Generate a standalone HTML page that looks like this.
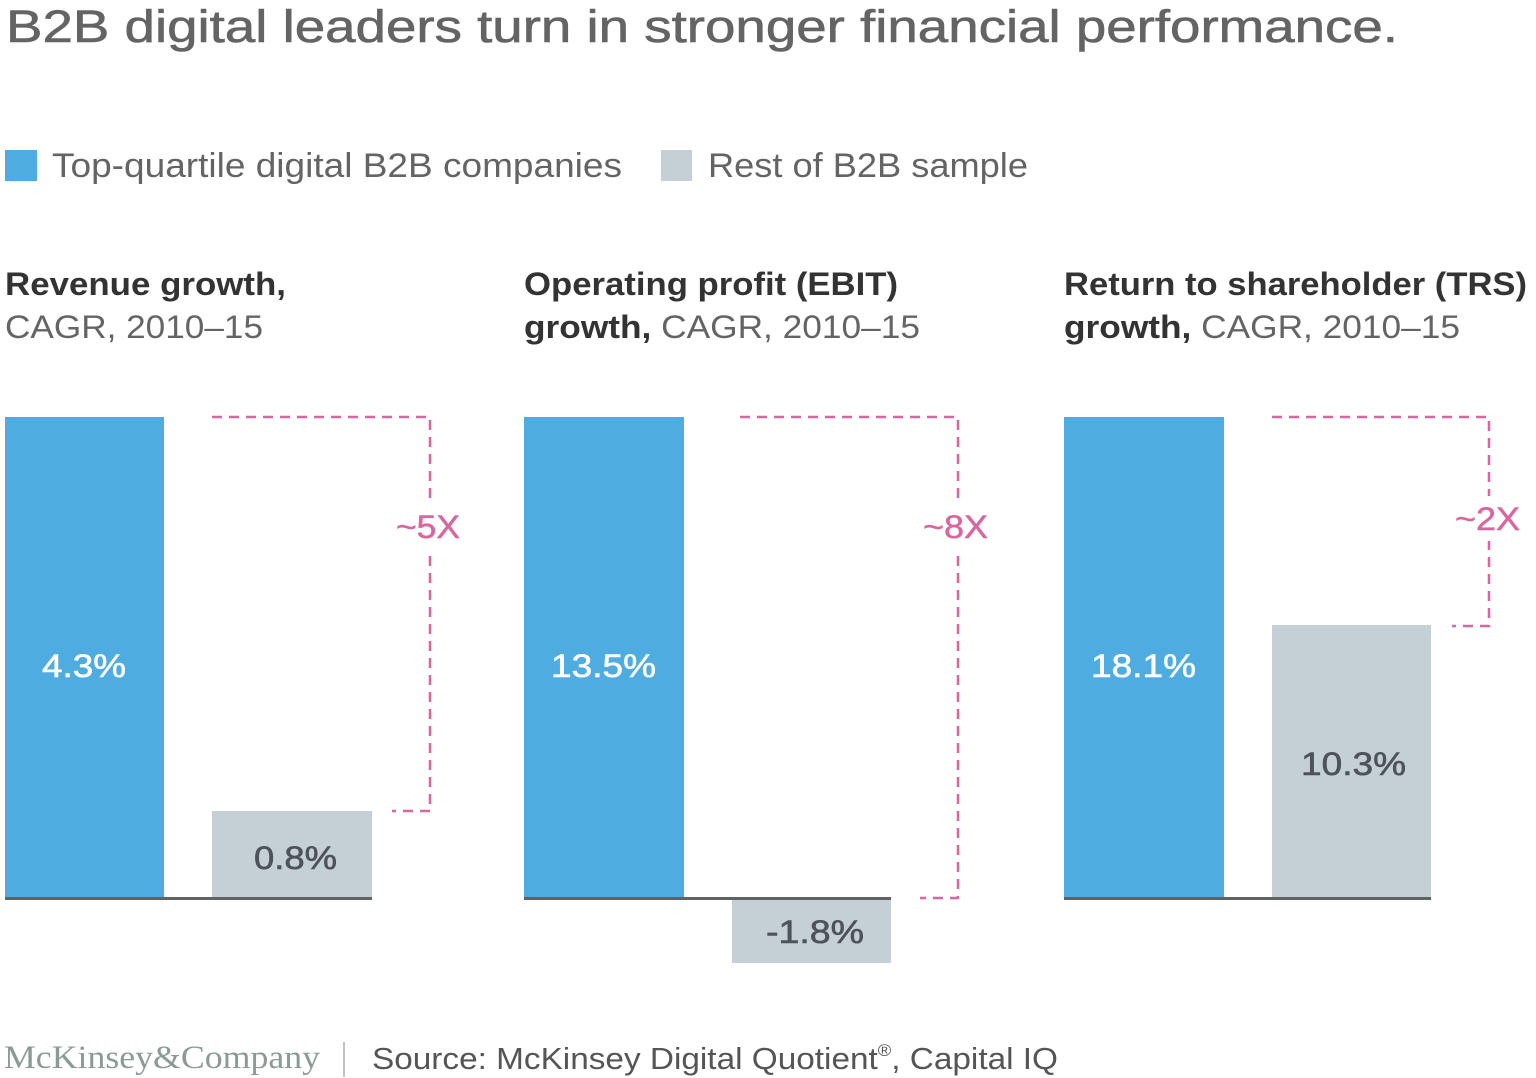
<!DOCTYPE html>
<html><head><meta charset="utf-8"><style>
body{margin:0;background:#fff;}
svg{display:block;font-family:"Liberation Sans",Arial,sans-serif;}
</style></head><body>
<svg width="1536" height="1078" viewBox="0 0 1536 1078">
<text x="6" y="42" font-size="45" fill="#646464" stroke="#646464" stroke-width="0.6" textLength="1392" lengthAdjust="spacingAndGlyphs">B2B digital leaders turn in stronger financial performance.</text>
<rect x="5" y="150" width="32" height="31" fill="#4FACE0"/>
<text x="52" y="177" font-size="34" fill="#646464" textLength="570" lengthAdjust="spacingAndGlyphs">Top-quartile digital B2B companies</text>
<rect x="661" y="150" width="31" height="31" fill="#C4D0D6"/>
<text x="708" y="177" font-size="34" fill="#646464" textLength="320" lengthAdjust="spacingAndGlyphs">Rest of B2B sample</text>

<g font-size="32">
<text x="5" y="295" fill="#333" font-weight="bold" textLength="281" lengthAdjust="spacingAndGlyphs">Revenue growth,</text>
<text x="5" y="338" fill="#646464" textLength="258" lengthAdjust="spacingAndGlyphs">CAGR, 2010–15</text>
<text x="524" y="295" fill="#333" font-weight="bold" textLength="374" lengthAdjust="spacingAndGlyphs">Operating profit (EBIT)</text>
<text x="524" y="338" textLength="396" lengthAdjust="spacingAndGlyphs"><tspan fill="#333" font-weight="bold">growth,</tspan><tspan fill="#646464"> CAGR, 2010–15</tspan></text>
<text x="1064" y="295" fill="#333" font-weight="bold" textLength="463" lengthAdjust="spacingAndGlyphs">Return to shareholder (TRS)</text>
<text x="1064" y="338" textLength="396" lengthAdjust="spacingAndGlyphs"><tspan fill="#333" font-weight="bold">growth,</tspan><tspan fill="#646464"> CAGR, 2010–15</tspan></text>
</g>

<g>
<rect x="5" y="417" width="159" height="481" fill="#4FACE0"/>
<rect x="212" y="811" width="160" height="87" fill="#C4D0D6"/>
<line x1="5" y1="898.5" x2="372" y2="898.5" stroke="#5f6366" stroke-width="3"/>
<rect x="524" y="417" width="160" height="481" fill="#4FACE0"/>
<rect x="732" y="898" width="159" height="65" fill="#C4D0D6"/>
<line x1="524" y1="898.5" x2="891" y2="898.5" stroke="#5f6366" stroke-width="3"/>
<rect x="1064" y="417" width="160" height="481" fill="#4FACE0"/>
<rect x="1272" y="625" width="159" height="273" fill="#C4D0D6"/>
<line x1="1064" y1="898.5" x2="1431" y2="898.5" stroke="#5f6366" stroke-width="3"/>
</g>

<g fill="none" stroke="#D8669F" stroke-width="2.5" stroke-dasharray="10,7">
<polyline points="212,417 430,417 430,811 392,811"/>
<polyline points="740,417 958,417 958,898 920,898"/>
<polyline points="1272,417 1489,417 1489,626 1452,626"/>
</g>
<g font-size="32" fill="#D8669F" stroke="#D8669F" stroke-width="0.5">
<rect x="390" y="505" width="75" height="45" fill="#fff" stroke="none"/>
<text x="396" y="538" textLength="64" lengthAdjust="spacingAndGlyphs">~5X</text>
<rect x="918" y="505" width="75" height="45" fill="#fff" stroke="none"/>
<text x="923" y="538" textLength="65" lengthAdjust="spacingAndGlyphs">~8X</text>
<rect x="1450" y="496" width="80" height="45" fill="#fff" stroke="none"/>
<text x="1455" y="530" textLength="65" lengthAdjust="spacingAndGlyphs">~2X</text>
</g>

<g font-size="32" stroke-width="0.6">
<text x="42" y="677" fill="#fff" stroke="#fff" textLength="84" lengthAdjust="spacingAndGlyphs">4.3%</text>
<text x="254" y="869" fill="#4d5358" stroke="#4d5358" textLength="83" lengthAdjust="spacingAndGlyphs">0.8%</text>
<text x="551" y="677" fill="#fff" stroke="#fff" textLength="105" lengthAdjust="spacingAndGlyphs">13.5%</text>
<text x="766" y="943" fill="#4d5358" stroke="#4d5358" textLength="98" lengthAdjust="spacingAndGlyphs">-1.8%</text>
<text x="1091" y="677" fill="#fff" stroke="#fff" textLength="105" lengthAdjust="spacingAndGlyphs">18.1%</text>
<text x="1301" y="775" fill="#4d5358" stroke="#4d5358" textLength="105" lengthAdjust="spacingAndGlyphs">10.3%</text>
</g>

<text x="4" y="1068" font-size="33" fill="#8a9a96" font-family="Liberation Serif,serif" textLength="316" lengthAdjust="spacingAndGlyphs">McKinsey&amp;Company</text>
<line x1="344" y1="1042" x2="344" y2="1077" stroke="#aaa" stroke-width="1.5"/>
<text x="372" y="1069" font-size="31" fill="#555" textLength="686" lengthAdjust="spacingAndGlyphs">Source: McKinsey Digital Quotient<tspan font-size="17" dy="-13">®</tspan><tspan dy="13">, Capital IQ</tspan></text>
</svg>
</body></html>
